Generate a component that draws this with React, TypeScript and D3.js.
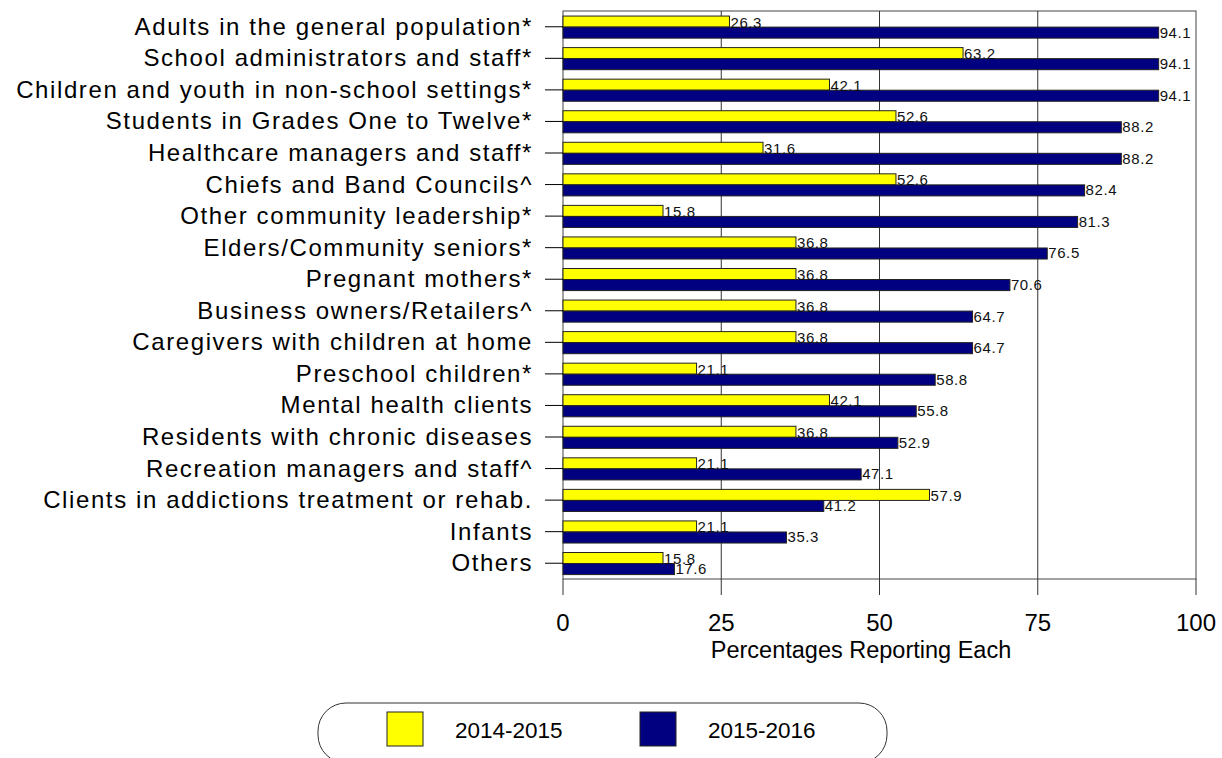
import React from "react";
import * as d3 from "d3";

const categories = [
  "Adults in the general population*",
  "School administrators and staff*",
  "Children and youth in non-school settings*",
  "Students in Grades One to Twelve*",
  "Healthcare managers and staff*",
  "Chiefs and Band Councils^",
  "Other community leadership*",
  "Elders/Community seniors*",
  "Pregnant mothers*",
  "Business owners/Retailers^",
  "Caregivers with children at home",
  "Preschool children*",
  "Mental health clients",
  "Residents with chronic diseases",
  "Recreation managers and staff^",
  "Clients in addictions treatment or rehab.",
  "Infants",
  "Others",
];
const values2014 = [26.3, 63.2, 42.1, 52.6, 31.6, 52.6, 15.8, 36.8, 36.8, 36.8, 36.8, 21.1, 42.1, 36.8, 21.1, 57.9, 21.1, 15.8];
const values2015 = [94.1, 94.1, 94.1, 88.2, 88.2, 82.4, 81.3, 76.5, 70.6, 64.7, 64.7, 58.8, 55.8, 52.9, 47.1, 41.2, 35.3, 17.6];
const seriesNames = ["2014-2015", "2015-2016"];
const xTicks = [0, 25, 50, 75, 100];

const W = 1222, H = 758;
const left = 563, right = 1196, top = 11, bottom = 579;
const FONT = "'Liberation Sans', Arial, sans-serif";
const YELLOW = "#ffff00", NAVY = "#000080";

export default function App() {
  const x = d3.scaleLinear().domain([0, 100]).range([left, right]);
  const y = d3.scaleBand<string>().domain(categories).range([top, bottom]).paddingInner(0).paddingOuter(0);
  const bw = y.bandwidth();
  const sub = d3.scaleBand<string>().domain(seriesNames).range([-bw * 0.34, bw * 0.36]);
  const sh = sub.bandwidth();
  return (
    <svg width={W} height={H} style={{ position: "fixed", left: 0, top: 0, background: "#fff" }} fontFamily={FONT}>
      <rect x={0} y={0} width={W} height={H} fill="#fff" />
      {/* plot box */}
      <rect x={left} y={top} width={right - left} height={bottom - top} fill="#fff" stroke="#444" strokeWidth={1} />
      {xTicks.slice(1, -1).map((t) => (
        <line key={"g" + t} x1={x(t)} x2={x(t)} y1={top} y2={bottom} stroke="#333" strokeWidth={1} />
      ))}
      {/* bars */}
      {categories.map((c, i) => {
        const cy = (y(c) as number) + bw / 2;
        const y1 = cy + (sub(seriesNames[0]) as number);
        const y2 = cy + (sub(seriesNames[1]) as number);
        return (
          <g key={c}>
            <rect x={x(0)} y={y1} width={x(values2014[i]) - x(0)} height={sh} fill={YELLOW} stroke="#222" strokeWidth={1} />
            <rect x={x(0)} y={y2} width={x(values2015[i]) - x(0)} height={sh} fill={NAVY} stroke="#222" strokeWidth={1} />
            <line x1={left - 18} x2={left} y1={cy} y2={cy} stroke="#000" />
            <text x={left - 30} y={cy + 8} textAnchor="end" fontSize={24} letterSpacing={1.6} fill="#000">
              {c}
            </text>
          </g>
        );
      })}
      {categories.map((c, i) => {
        const cy = (y(c) as number) + bw / 2;
        const y1 = cy + (sub(seriesNames[0]) as number);
        const y2 = cy + (sub(seriesNames[1]) as number);
        return (
          <g key={"v" + c}>
            <text x={x(values2014[i]) + 1} y={y1 + sh / 2 + 2} dominantBaseline="middle" fontSize={15} letterSpacing={0.6} fill="#111">
              {values2014[i].toFixed(1)}
            </text>
            <text x={x(values2015[i]) + 1} y={y2 + sh / 2 + 1} dominantBaseline="middle" fontSize={15} letterSpacing={0.6} fill="#111">
              {values2015[i].toFixed(1)}
            </text>
          </g>
        );
      })}
      {/* x axis */}
      {xTicks.map((t) => (
        <g key={"x" + t}>
          <line x1={x(t)} x2={x(t)} y1={bottom} y2={bottom + 16} stroke="#333" />
          <text x={x(t)} y={631} textAnchor="middle" fontSize={24} fill="#000">
            {t}
          </text>
        </g>
      ))}
      <text x={861} y={658} textAnchor="middle" fontSize={23.5} fill="#000">
        Percentages Reporting Each
      </text>
      {/* legend */}
      <rect x={318} y={703} width={569} height={60} rx={28} ry={28} fill="#fff" stroke="#333" strokeWidth={1} />
      {seriesNames.map((s, i) => (
        <g key={s}>
          <rect x={387 + i * 253} y={712} width={36} height={34} fill={i === 0 ? YELLOW : NAVY} stroke="#222" />
          <text x={455 + i * 253} y={738} fontSize={22.5} fill="#000">
            {s}
          </text>
        </g>
      ))}
    </svg>
  );
}
